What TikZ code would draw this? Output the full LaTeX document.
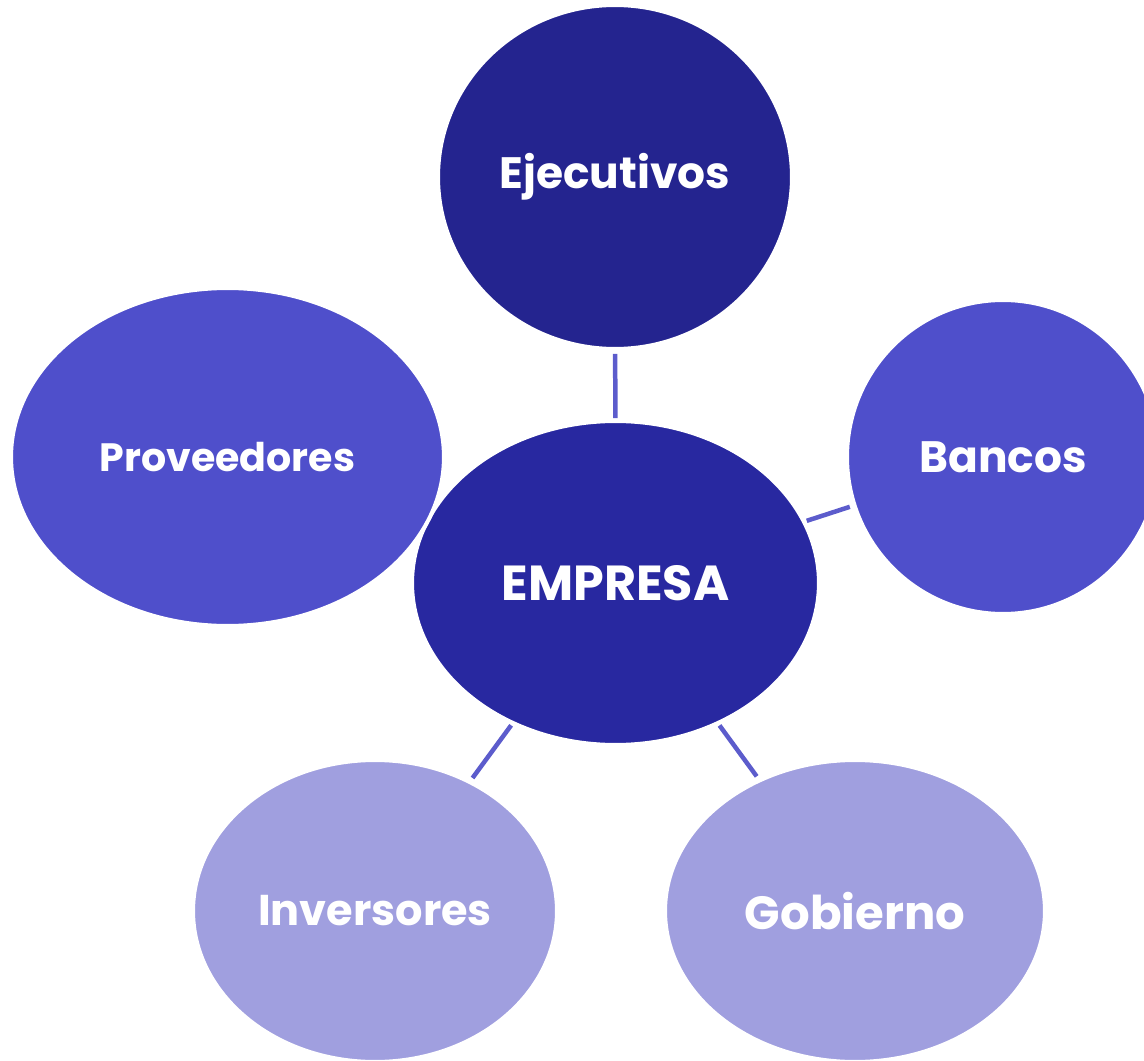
\documentclass[tikz,border=0pt]{standalone}
\usepackage{fontspec}
\setmainfont{Poppins}
\usetikzlibrary{shapes.geometric}
\definecolor{navyblue}{HTML}{24248F}
\definecolor{coreblue}{HTML}{2828A0}
\definecolor{midblue}{HTML}{4F4FCB}
\definecolor{paleblue}{HTML}{A09FDF}
\definecolor{linkblue}{HTML}{5C5CCC}
\tikzset{
  bubble/.style={ellipse, draw=white, line width=0.08cm, text=white, inner sep=0pt},
  link/.style={draw=linkblue, line width=0.09cm, shorten <=0.02cm, shorten >=0.06cm}
}
\begin{document}
\begin{tikzpicture}[x=0.02cm, y=-0.02cm]
\useasboundingbox (0,0) rectangle (1144,1061);
\node[bubble, fill=navyblue, minimum width=7.08cm, minimum height=6.88cm, font=\fontsize{25}{30}\selectfont\bfseries] (ejec) at (615,177) {Ejecutivos};
\node[bubble, fill=coreblue, minimum width=8.14cm, minimum height=6.48cm, font=\fontsize{28}{34}\selectfont\bfseries] (empresa) at (615.5,583) {EMPRESA};
\node[bubble, fill=midblue, minimum width=8.66cm, minimum height=6.76cm, font=\fontsize{22.5}{26}\selectfont\bfseries] (prov) at (227.5,457) {Proveedores};
\node[bubble, fill=midblue, minimum width=6.24cm, minimum height=6.28cm, font=\fontsize{25}{30}\selectfont\bfseries] (bancos) at (1003,457) {Bancos};
\node[bubble, fill=paleblue, minimum width=7.28cm, minimum height=6.04cm, font=\fontsize{24.5}{30}\selectfont\bfseries] (inv) at (375,911) {Inversores};
\node[bubble, fill=paleblue, minimum width=7.6cm, minimum height=6.04cm, font=\fontsize{26.5}{30}\selectfont\bfseries] (gob) at (855,911) {Gobierno};
\draw[link] (empresa) -- (ejec);
\draw[link] (empresa) -- (bancos);
\draw[link] (empresa) -- (inv);
\draw[link] (empresa) -- (gob);
\end{tikzpicture}
\end{document}
